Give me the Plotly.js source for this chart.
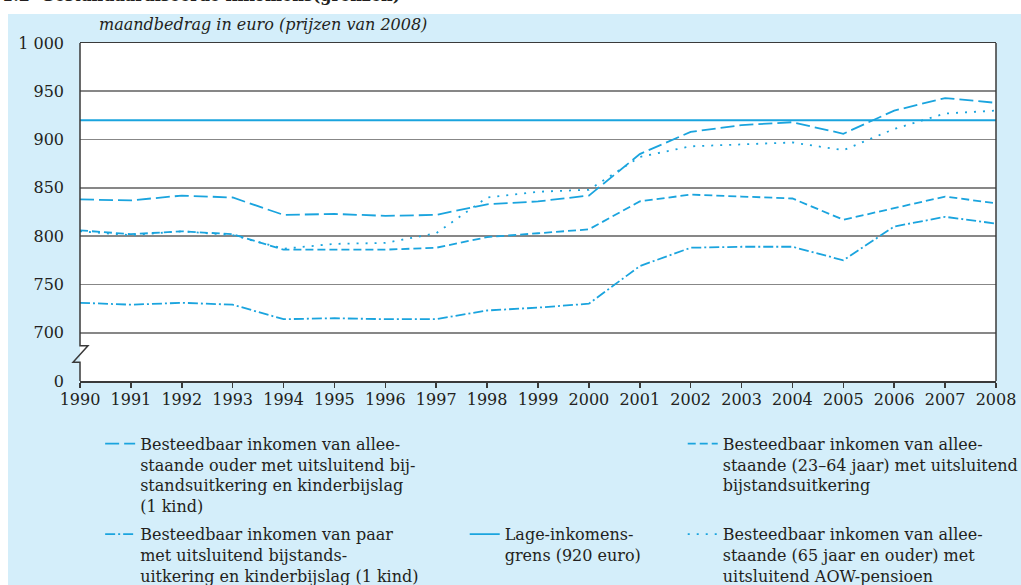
<!DOCTYPE html>
<html>
<head>
<meta charset="utf-8">
<script src="https://cdn.plot.ly/plotly-3.0.1.min.js"></script>
<style>
  body { margin: 0; background: #ffffff; }
  #chart { width: 1021px; height: 585px; }
</style>
</head>
<body>
<div id="chart"></div>
<script>
// years on the x axis
var years = [1990, 1991, 1992, 1993, 1994, 1995, 1996, 1997, 1998, 1999,
             2000, 2001, 2002, 2003, 2004, 2005, 2006, 2007, 2008];

// monthly amounts in euro (prices of 2008)
var ouderEenKind = [838, 837, 842, 840, 822, 823, 821, 822, 833, 836,
                    842, 885, 908, 915, 918, 906, 930, 943, 938];
var alleenstaande2364 = [806, 802, 805, 802, 786, 786, 786, 788, 799, 803,
                         807, 836, 843, 841, 839, 817, 829, 841, 834];
var paarEenKind = [731, 729, 731, 729, 714, 715, 714, 714, 723, 726,
                   730, 769, 788, 789, 789, 775, 810, 820, 813];
var alleenstaande65 = [805, 801, 805, 801, 787, 792, 793, 803, 840, 846,
                       848, 882, 893, 895, 897, 889, 911, 927, 930];
var lageInkomensgrens = [920, 920, 920, 920, 920, 920, 920, 920, 920, 920,
                         920, 920, 920, 920, 920, 920, 920, 920, 920];

// y axis: 650 stands in for the broken part of the axis, labelled 0
var yTickVals = [650, 700, 750, 800, 850, 900, 950, 1000];
var yTickText = ["0", "700", "750", "800", "850", "900", "950", "1 000"];

var labels = [
  "Besteedbaar inkomen van allee-<br>staande ouder met uitsluitend bij-<br>standsuitkering en kinderbijslag<br>(1 kind)",
  "Besteedbaar inkomen van allee-<br>staande (23–64 jaar) met uitsluitend<br>bijstandsuitkering",
  "Besteedbaar inkomen van paar<br>met uitsluitend bijstands-<br>uitkering en kinderbijslag (1 kind)",
  "Lage-inkomens-<br>grens (920 euro)",
  "Besteedbaar inkomen van allee-<br>staande (65 jaar en ouder) met<br>uitsluitend AOW-pensioen"
];

var blue = "#1aa4de";
var serif = "'DejaVu Serif', 'Liberation Serif', serif";
var textColor = "#231f20";

function line(y, name, dash, legendId) {
  return {
    x: years, y: y, name: name, type: "scatter", mode: "lines",
    line: { color: blue, width: 1.8, dash: dash },
    legend: legendId, hoverinfo: "skip"
  };
}

var traces = [
  line(ouderEenKind, labels[0], "14px,5px", "legend"),
  line(alleenstaande2364, labels[1], "8px,4px", "legend2"),
  line(paarEenKind, labels[2], "10px,3px,2px,3px", "legend3"),
  line(lageInkomensgrens, labels[3], "solid", "legend4"),
  line(alleenstaande65, labels[4], "2px,7px", "legend5")
];

function legendAt(x, y) {
  return {
    x: x, y: y, xanchor: "left", yanchor: "top",
    bgcolor: "rgba(0,0,0,0)", borderwidth: 0,
    font: { family: serif, size: 16, color: textColor },
    valign: "top", itemwidth: 30, tracegroupgap: 0
  };
}

var ink = "#3a3a3a";

var layout = {
  width: 1021, height: 585,
  margin: { l: 80, r: 25, t: 43, b: 204, autoexpand: false },
  paper_bgcolor: "#d4eefa",
  plot_bgcolor: "#ffffff",
  font: { family: serif, size: 16, color: textColor },
  showlegend: true,
  legend: legendAt(0.022, -0.135),
  legend2: legendAt(0.658, -0.135),
  legend3: legendAt(0.022, -0.403),
  legend4: legendAt(0.42, -0.403),
  legend5: legendAt(0.658, -0.403),
  xaxis: {
    range: [1990, 2008],
    tickvals: years,
    ticks: "outside", ticklen: 5, tickwidth: 1.5, tickcolor: ink,
    ticklabelstandoff: -2,
    showline: true, linecolor: ink, linewidth: 1.5, mirror: true,
    showgrid: false, zeroline: false,
    tickfont: { family: serif, size: 16, color: textColor }
  },
  yaxis: {
    range: [650, 1000],
    tickvals: yTickVals, ticktext: yTickText,
    ticks: "", ticklabelstandoff: 15,
    showline: false, zeroline: false,
    showgrid: true, gridcolor: "#878787", gridwidth: 1.6,
    tickfont: { family: serif, size: 16, color: textColor }
  },
  shapes: [
    // white margin strips outside the blue panel
    { type: "rect", xref: "paper", yref: "paper", x0: -0.12, x1: 1.05, y0: 1.0858, y1: 1.2,
      fillcolor: "#ffffff", line: { width: 0 }, layer: "below" },
    { type: "rect", xref: "paper", yref: "paper", x0: -0.12, x1: -0.0786, y0: -0.7, y1: 1.2,
      fillcolor: "#ffffff", line: { width: 0 }, layer: "below" },
    // left axis with the break
    { type: "path", xref: "paper", yref: "y",
      path: "M0,1000 L0,686.5 L0.0087,686.5 L-0.0076,669.5 L0,669.5 L0,650",
      line: { color: ink, width: 1.5 } },
    // right border
    { type: "line", xref: "paper", yref: "y", x0: 1, x1: 1, y0: 650, y1: 1000,
      line: { color: ink, width: 1.5 } }
  ],
  annotations: [
    { text: "maandbedrag in euro (prijzen van 2008)", xref: "paper", yref: "paper",
      x: 0.0186, y: 1.0533, xanchor: "left", yanchor: "middle", showarrow: false,
      font: { family: serif, size: 16, color: textColor, style: "italic" } },
    { text: "<b>1.2  Gestandaardiseerde inkomens(grenzen)</b>", xref: "paper", yref: "paper",
      x: -0.0873, y: 1.0858, xanchor: "left", yanchor: "bottom", yshift: 7, showarrow: false,
      font: { family: serif, size: 16, color: textColor } }
  ]
};

Plotly.newPlot("chart", traces, layout, { displayModeBar: false, staticPlot: true });
</script>
</body>
</html>
